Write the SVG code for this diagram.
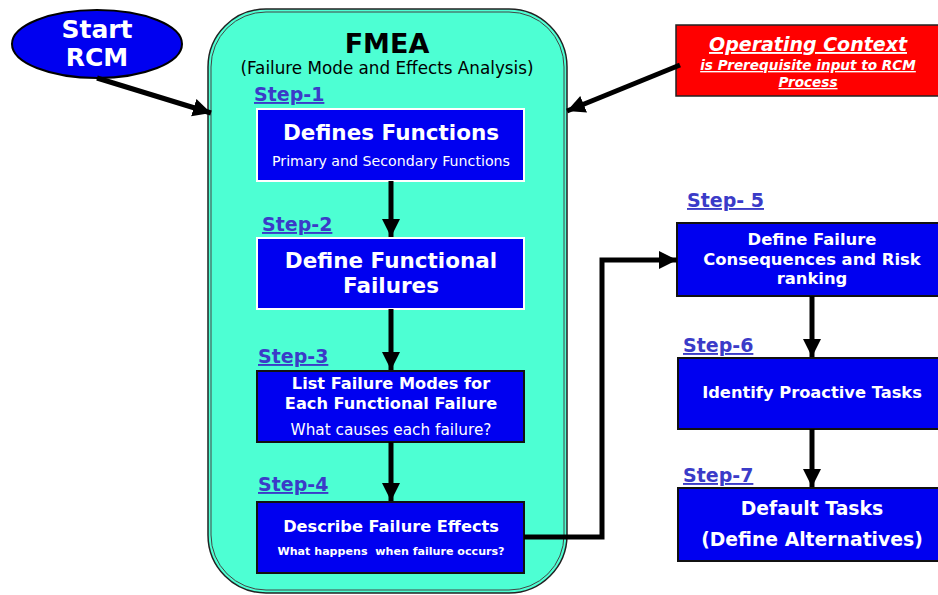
<svg xmlns="http://www.w3.org/2000/svg" width="938" height="595" viewBox="0 0 938 595">
<defs>
<style>
text{font-family:"DejaVu Sans","Noto Sans",sans-serif;}
.w{fill:#fff;font-weight:bold;text-anchor:middle;}
.ws{fill:#fff;text-anchor:middle;}
.step{fill:#3B3BC8;font-weight:bold;font-size:19px;text-decoration:underline;}
.oc{fill:#fff;font-style:italic;font-weight:bold;text-anchor:middle;text-decoration:underline;}
.box{fill:#0000F0;stroke:#111;stroke-width:2;}
.boxw{fill:#0000F0;stroke:#fff;stroke-width:2;}
.con{stroke:#000;stroke-width:5;fill:none;}
</style>
<marker id="ah" markerUnits="userSpaceOnUse" markerWidth="20" markerHeight="20" viewBox="0 0 20 20" refX="18" refY="10" orient="auto">
<path d="M0,1 L18,10 L0,19 Z" fill="#000"/>
</marker>
</defs>

<g id="fmea">
<rect x="208" y="9" width="359" height="584" rx="58" ry="58" fill="#4DFFD3" stroke="#222" stroke-width="1.5"/>
<rect x="211" y="12" width="353" height="578" rx="55" ry="55" fill="none" stroke="#444" stroke-width="1"/>
<text x="387" y="53" font-size="27" font-weight="bold" text-anchor="middle" fill="#000">FMEA</text>
<text x="387" y="74" font-size="16.8" text-anchor="middle" fill="#000">(Failure Mode and Effects Analysis)</text>
</g>

<g id="start">
<ellipse cx="97" cy="44" rx="85" ry="34" fill="#0000F0" stroke="#000" stroke-width="2"/>
<text class="w" x="97" y="38" font-size="25">Start</text>
<text class="w" x="97" y="66" font-size="25">RCM</text>
</g>

<g id="context">
<rect x="676" y="25" width="264" height="71" fill="#FF0000" stroke="#222" stroke-width="1.5"/>
<text class="oc" x="808" y="51" font-size="19">Operating Context</text>
<text class="oc" x="808" y="70" font-size="13.6">is Prerequisite input to RCM</text>
<text class="oc" x="808" y="87" font-size="13.6">Process</text>
</g>

<g id="step1">
<text class="step" x="254" y="101">Step-1</text>
<rect class="boxw" x="257" y="109" width="267" height="72"/>
<text class="w" x="391" y="140" font-size="21.5">Defines Functions</text>
<text class="ws" x="391" y="166" font-size="14.2">Primary and Secondary Functions</text>
</g>

<g id="step2">
<text class="step" x="262" y="231">Step-2</text>
<rect class="boxw" x="257" y="238" width="267" height="71"/>
<text class="w" x="391" y="268" font-size="21.5">Define Functional</text>
<text class="w" x="391" y="293" font-size="21.5">Failures</text>
</g>

<g id="step3">
<text class="step" x="258" y="363">Step-3</text>
<rect class="box" x="257" y="371" width="267" height="71"/>
<text class="w" x="391" y="389" font-size="16.2">List Failure Modes for</text>
<text class="w" x="391" y="409" font-size="16.2">Each Functional Failure</text>
<text class="ws" x="391" y="435" font-size="15.3">What causes each failure?</text>
</g>

<g id="step4">
<text class="step" x="258" y="491">Step-4</text>
<rect class="box" x="257" y="502" width="267" height="71"/>
<text class="w" x="391" y="532" font-size="16.2">Describe Failure Effects</text>
<text class="w" x="391" y="555" font-size="11.1" xml:space="preserve">What happens  when failure occurs?</text>
</g>

<g id="step5">
<text class="step" x="687" y="207" xml:space="preserve">Step- 5</text>
<rect class="box" x="677" y="223" width="263" height="73"/>
<text class="w" x="812" y="245" font-size="16.4">Define Failure</text>
<text class="w" x="812" y="265" font-size="16.4">Consequences and Risk</text>
<text class="w" x="812" y="284" font-size="16.4">ranking</text>
</g>

<g id="step6">
<text class="step" x="683" y="352">Step-6</text>
<rect class="box" x="678" y="358" width="262" height="71"/>
<text class="w" x="812" y="398" font-size="16.3">Identify Proactive Tasks</text>
</g>

<g id="step7">
<text class="step" x="683" y="482">Step-7</text>
<rect class="box" x="678" y="488" width="262" height="73"/>
<text class="w" x="812" y="515" font-size="18.8">Default Tasks</text>
<text class="w" x="812" y="546" font-size="18.8">(Define Alternatives)</text>
</g>

<g id="connectors">
<line class="con" x1="97" y1="78" x2="211" y2="113" marker-end="url(#ah)"/>
<line class="con" x1="680" y1="65" x2="567" y2="111" marker-end="url(#ah)"/>
<line class="con" x1="391" y1="181" x2="391" y2="237" marker-end="url(#ah)"/>
<line class="con" x1="391" y1="309" x2="391" y2="370" marker-end="url(#ah)"/>
<line class="con" x1="391" y1="442" x2="391" y2="501" marker-end="url(#ah)"/>
<polyline class="con" points="524,537 602,537 602,260 677,260" marker-end="url(#ah)"/>
<line class="con" x1="812" y1="296" x2="812" y2="357" marker-end="url(#ah)"/>
<line class="con" x1="812" y1="429" x2="812" y2="487" marker-end="url(#ah)"/>
</g>
</svg>
